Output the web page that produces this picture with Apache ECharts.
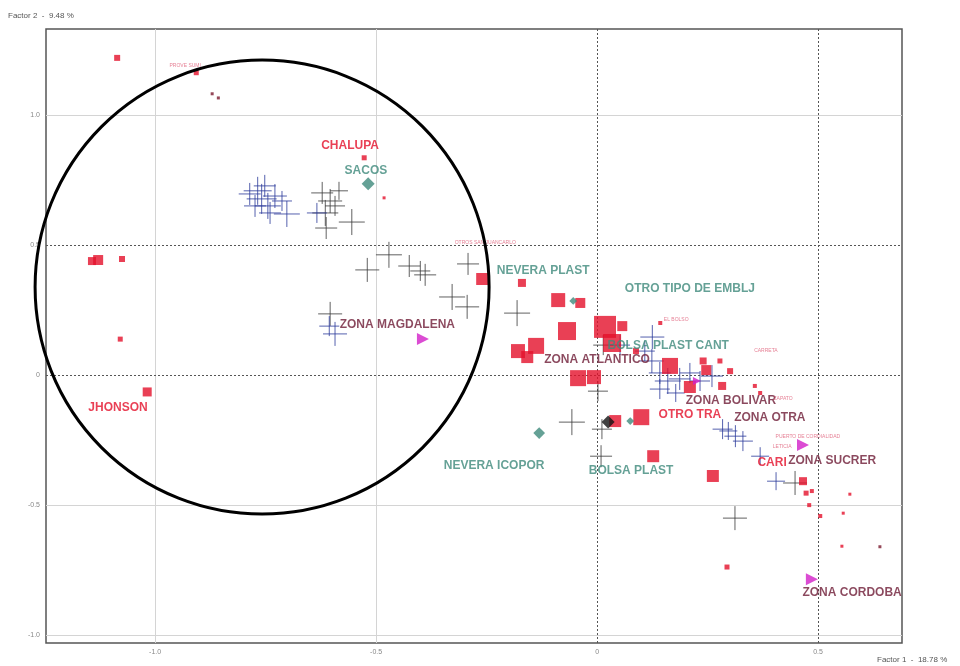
<!DOCTYPE html>
<html><head><meta charset="utf-8">
<script src="https://cdn.jsdelivr.net/npm/echarts@6/dist/echarts.min.js"></script>
<style>html,body{margin:0;padding:0;background:#fff}#c{width:960px;height:666px}</style>
</head><body><div id="c"></div>
<script>
// axis ticks
const xTicks = [-1.0, -0.5, 0, 0.5];
const yTicks = [-1.0, -0.5, 0, 0.5, 1.0];
const xAxisName = 'Factor 1  -  18.78 %';
const yAxisName = 'Factor 2  -  9.48 %';

// red squares [x, y, size]
const redSquares = [
 [-1.086,1.219,6],[-0.907,1.162,5],[-1.129,0.442,10],[-1.143,0.438,8],[-1.075,0.446,6],
 [-1.079,0.138,5],[-1.018,-0.065,9],[-0.527,0.835,5],[-0.482,0.681,3],[-0.260,0.369,12],
 [-0.170,0.354,8],[-0.088,0.288,14],[-0.038,0.277,10],[-0.068,0.169,18],[0.018,0.185,22],
 [0.034,0.123,18],[0.057,0.188,10],[-0.138,0.112,16],[-0.179,0.092,14],[-0.158,0.069,12],
 [-0.043,-0.012,16],[-0.007,-0.008,14],[0.165,0.035,16],[0.210,-0.046,12],[0.247,0.019,10],
 [0.283,-0.042,8],[0.041,-0.177,12],[0.100,-0.162,16],[0.127,-0.312,12],[0.262,-0.388,12],
 [0.294,-0.738,5],[0.466,-0.408,8],[0.473,-0.454,5],[0.486,-0.446,4],[0.480,-0.500,4],
 [0.505,-0.542,4],[0.572,-0.458,3],[0.557,-0.531,3],[0.554,-0.658,3],[0.357,-0.042,4],
 [0.369,-0.069,4],[0.088,0.092,6],[0.278,0.054,5],[0.301,0.015,6],[0.240,0.054,7],[0.143,0.200,4]
];
// dark small dots
const darkDots = [[-0.871,1.081,3],[-0.857,1.065,3],[0.64,-0.66,3]];

// navy crosses [x, y, size]
const navyCrosses = [
 [-0.786,0.696,22],[-0.768,0.708,28],[-0.759,0.677,30],[-0.745,0.650,26],[-0.774,0.650,22],
 [-0.729,0.688,24],[-0.740,0.623,22],[-0.713,0.669,20],[-0.752,0.727,22],[-0.702,0.619,26],
 [-0.593,0.158,24],[-0.606,0.188,20],[-0.634,0.623,20],
 [0.125,0.146,24],[0.124,0.054,24],[0.142,0.008,22],[0.160,-0.023,26],[0.187,-0.015,22],
 [0.210,0.008,20],[0.233,-0.023,20],[0.260,-0.004,22],[0.108,0.092,20],[0.142,-0.054,20],
 [0.178,-0.069,18],[0.284,-0.208,20],[0.313,-0.235,22],[0.330,-0.254,20],[0.297,-0.215,18],
 [0.369,-0.312,18],[0.405,-0.408,18],[0.052,0.115,20]
];
// gray crosses
const grayCrosses = [
 [-0.622,0.700,22],[-0.604,0.669,24],[-0.615,0.623,26],[-0.593,0.650,20],[-0.555,0.588,26],
 [-0.613,0.565,22],[-0.584,0.708,18],[-0.471,0.462,26],[-0.520,0.404,24],[-0.425,0.419,22],
 [-0.389,0.385,22],[-0.400,0.400,20],[-0.292,0.427,22],[-0.328,0.300,26],[-0.294,0.262,24],
 [-0.604,0.235,24],[-0.181,0.238,26],[-0.057,-0.181,26],[0.009,-0.312,22],[0.312,-0.550,24],
 [0.448,-0.415,24],[0.002,-0.062,20],[0.011,-0.208,20],[0.014,0.115,20]
];
// teal diamonds
const tealDiamonds = [[-0.518,0.735,10],[-0.131,-0.223,9],[-0.054,0.285,6],[0.075,-0.177,6]];
const blackDiamonds = [[0.025,-0.181,10]];
// magenta triangles
const magentaTriangles = [[-0.394,0.138,12],[0.466,-0.269,12],[0.486,-0.785,12],[0.226,-0.023,8]];

// labels
const redLabels = [['CHALUPA',-0.559,0.881],['JHONSON',-1.084,-0.127],['OTRO TRA',0.210,-0.154],['CARI',0.396,-0.338]];
const tealLabels = [['SACOS',-0.523,0.785],['NEVERA PLAST',-0.122,0.400],['OTRO TIPO DE EMBLJ',0.210,0.331],
 ['BOLSA PLAST CANT',0.161,0.112],['NEVERA ICOPOR',-0.233,-0.350],['BOLSA PLAST',0.077,-0.369]];
const zoneLabels = [['ZONA MAGDALENA',-0.452,0.192],['ZONA ATLANTICO',0.000,0.058],['ZONA BOLIVAR',0.303,-0.100],
 ['ZONA OTRA',0.391,-0.165],['ZONA SUCRER',0.532,-0.331],['ZONA CORDOBA',0.577,-0.838]];
const tinyLabels = [['PROVE SUMI',-0.932,1.188],['OTROS SAN JUANCARLO',-0.253,0.508],['EL BOLSO',0.179,0.212],
 ['CARRETA',0.382,0.092],['ZAPATO',0.421,-0.092],['PUERTO DE CORDIALIDAD',0.477,-0.235],['LETICIA',0.419,-0.277]];

// reference lines
const darkLinesX = [0, 0.5];
const darkLinesY = [0, 0.5];
const lightLinesX = [-1.0, -0.5];
const lightLinesY = [1.0, -0.5, -1.0];

// circle annotation (data centre, pixel radius)
const circleCentre = [-0.758, 0.338];

const crossPath = 'path://M0,10L20,10M10,0L10,20';
function crossSeries(data, color, w){
  return {type:'scatter', symbol: crossPath, data: data, symbolSize: d=>d[2],
    itemStyle:{color:'rgba(0,0,0,0)', borderColor: color, borderWidth: w}, z:3, silent:true};
}
function labelSeries(arr, color, size, bold){
  return {type:'scatter', symbolSize:0, z:10, silent:true,
    data: arr.map(a=>({name:a[0], value:[a[1],a[2]]})),
    label:{show:true, position:'inside', formatter:'{b}', color: color, fontSize: size,
      fontWeight: bold?'bold':'normal', fontFamily:'Liberation Sans, Arial, sans-serif'}};
}
const chart = echarts.init(document.getElementById('c'));
const fmt = v => (Math.abs(v)<1e-9?'0':v.toFixed(1));
const textGraphics = [
  {type:'text', left:8, top:12, style:{text:yAxisName, fontSize:8, fill:'#555', fontFamily:'Liberation Sans, Arial'}},
  {type:'text', left:877, top:656, style:{text:xAxisName, fontSize:8, fill:'#555', fontFamily:'Liberation Sans, Arial'}}
];
chart.setOption({
  animation:false,
  grid:{left:46, right:58, top:29, bottom:23, show:true, borderColor:'#555', borderWidth:1.5, backgroundColor:'#fff'},
  xAxis:{type:'value', min:-1.247, max:0.69,
    axisLine:{show:false}, axisTick:{show:false},
    axisLabel:{fontSize:7, color:'#888', margin:6, customValues:xTicks, formatter:fmt},
    splitLine:{show:false}},
  yAxis:{type:'value', min:-1.03, max:1.33,
    axisLine:{show:false}, axisTick:{show:false},
    axisLabel:{fontSize:7, color:'#888', margin:6, customValues:yTicks, formatter:fmt},
    splitLine:{show:false}},
  graphic: textGraphics,
  series:[
    {type:'scatter', data:[], silent:true,
     markLine:{symbol:'none', silent:true, label:{show:false}, z:1,
       data: lightLinesX.map(v=>({xAxis:v, lineStyle:{type:'solid', color:'#d4d4d4', width:1}}))
         .concat(lightLinesY.map(v=>({yAxis:v, lineStyle:{type:'solid', color:'#d4d4d4', width:1}})))
         .concat(darkLinesX.map(v=>({xAxis:v, lineStyle:{type:[2,2], color:'#555', width:1}})))
         .concat(darkLinesY.map(v=>({yAxis:v, lineStyle:{type:[2,2], color:'#555', width:1}})))}},
    crossSeries(grayCrosses,'#3a3a3a',1),
    crossSeries(navyCrosses,'#2b3a9a',1),
    {type:'scatter', symbol:'rect', data:redSquares, symbolSize:d=>d[2], itemStyle:{color:'#e3102a'}, z:4, silent:true},
    {type:'scatter', symbol:'rect', data:darkDots, symbolSize:d=>d[2], itemStyle:{color:'#7a1a30'}, z:4, silent:true},
    {type:'scatter', symbol:'diamond', data:tealDiamonds, symbolSize:d=>d[2]*1.3, itemStyle:{color:'#3f8a7c'}, z:5, silent:true},
    {type:'scatter', symbol:'diamond', data:blackDiamonds, symbolSize:d=>d[2]*1.3, itemStyle:{color:'#111'}, z:5, silent:true},
    {type:'scatter', symbol:'triangle', symbolRotate:-90, data:magentaTriangles, symbolSize:d=>d[2], itemStyle:{color:'#d21fc8'}, z:5, silent:true},
    labelSeries(redLabels,'#e3102a',12,true),
    labelSeries(tealLabels,'#3f8a7c',12,true),
    labelSeries(zoneLabels,'#6e1c36',12,true),
    labelSeries(tinyLabels,'#e0607a',5,false)
  ]
});
const c = chart.convertToPixel({gridIndex:0}, circleCentre);
chart.setOption({graphic: textGraphics.concat([
  {type:'circle', shape:{cx:c[0], cy:c[1], r:227}, style:{fill:'none', stroke:'#000', lineWidth:3}, z:20, silent:true}
])});
</script></body></html>
